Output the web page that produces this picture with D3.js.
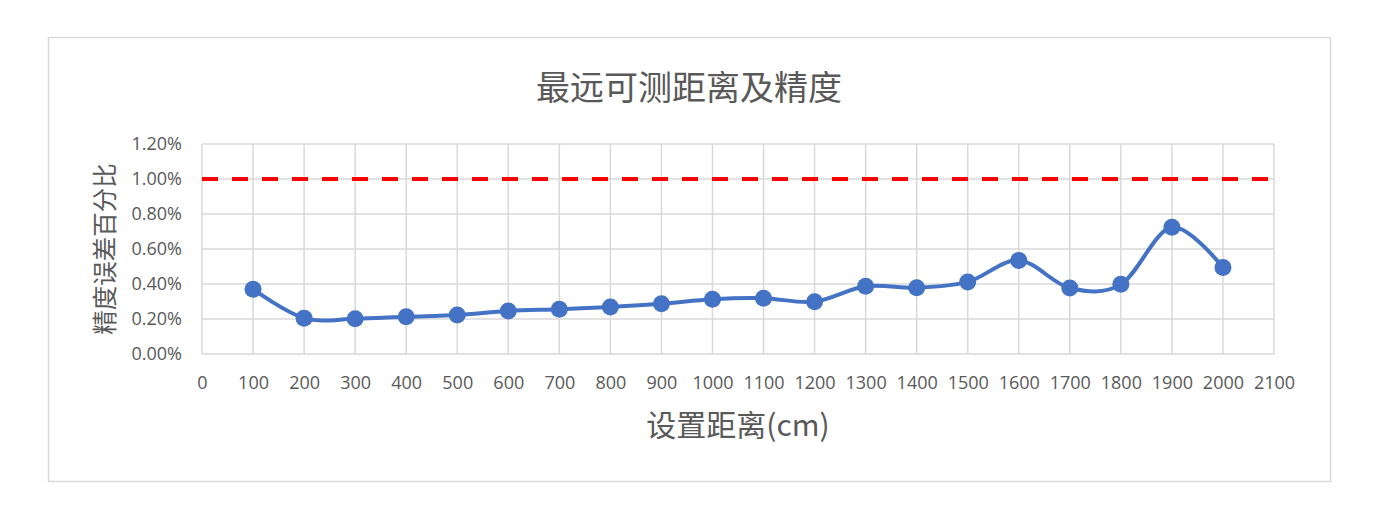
<!DOCTYPE html>
<html>
<head>
<meta charset="utf-8">
<script src="https://cdn.jsdelivr.net/npm/d3@7"></script>
<style>
    body { margin: 0; background: #fff; }
    text { fill: #595959; font-family: "Open Sans", "Noto Sans CJK SC", sans-serif; }
    .cjk { font-family: "Noto Sans CJK SC", sans-serif; }
</style>
</head>
<body>
<svg id="chart" width="1384" height="519"></svg>
<script>
// Measured distance (cm) and precision error (%)
const distances = [100, 200, 300, 400, 500, 600, 700, 800, 900, 1000,
                   1100, 1200, 1300, 1400, 1500, 1600, 1700, 1800, 1900, 2000];
const errors = [0.370, 0.205, 0.201, 0.213, 0.223, 0.246, 0.256, 0.269, 0.287, 0.313,
                0.319, 0.299, 0.387, 0.379, 0.412, 0.535, 0.377, 0.398, 0.724, 0.494];
const limitValue = 1.0;
const xTicks = d3.range(0, 2101, 100);
const yTicks = [0, 0.2, 0.4, 0.6, 0.8, 1.0, 1.2];

const svg = d3.select("#chart");

// Chart area border
svg.append("rect")
    .attr("x", 48.5).attr("y", 37.5)
    .attr("width", 1282).attr("height", 444)
    .attr("fill", "#fff")
    .attr("stroke", "#d9d9d9")
    .attr("stroke-width", 1.5);

const x = d3.scaleLinear().domain([0, 2100]).range([202, 1274]);
const y = d3.scaleLinear().domain([0, 1.2]).range([354, 144]);

// Gridlines
svg.append("g")
    .selectAll("line")
    .data(xTicks)
    .join("line")
    .attr("x1", d => x(d)).attr("x2", d => x(d))
    .attr("y1", y(0)).attr("y2", y(1.2))
    .attr("stroke", "#d9d9d9")
    .attr("stroke-width", 1.5);

svg.append("g")
    .selectAll("line")
    .data(yTicks)
    .join("line")
    .attr("x1", x(0)).attr("x2", x(2100))
    .attr("y1", d => y(d)).attr("y2", d => y(d))
    .attr("stroke", "#d9d9d9")
    .attr("stroke-width", 1.5);

// Axes labels
const xAxis = svg.append("g")
    .attr("transform", `translate(0,${y(0)})`)
    .call(d3.axisBottom(x).tickValues(xTicks).tickSize(0).tickPadding(22).tickFormat(d3.format("d")));
const yAxis = svg.append("g")
    .attr("transform", `translate(${x(0)},0)`)
    .call(d3.axisLeft(y).tickValues(yTicks).tickSize(0).tickPadding(20).tickFormat(d => d.toFixed(2) + "%"));

[xAxis, yAxis].forEach(g => {
    g.select(".domain").remove();
    g.selectAll("text")
        .attr("fill", "#595959")
        .style("font-family", '"Open Sans", sans-serif')
        .style("font-size", "18px");
});

// 1% limit line
svg.append("line")
    .attr("x1", x(0)).attr("x2", x(2100))
    .attr("y1", y(limitValue)).attr("y2", y(limitValue))
    .attr("stroke", "#ff0000")
    .attr("stroke-width", 4)
    .attr("stroke-dasharray", "16,14");

// Smoothed data line
const points = distances.map((d, i) => [d, errors[i]]);
const line = d3.line()
    .x(d => x(d[0]))
    .y(d => y(d[1]))
    .curve(d3.curveCatmullRom.alpha(0));

svg.append("path")
    .datum(points)
    .attr("d", line)
    .attr("fill", "none")
    .attr("stroke", "#4472c4")
    .attr("stroke-width", 4);

svg.append("g")
    .selectAll("circle")
    .data(points)
    .join("circle")
    .attr("cx", d => x(d[0]))
    .attr("cy", d => y(d[1]))
    .attr("r", 8.5)
    .attr("fill", "#4472c4");

// Titles
svg.append("text")
    .attr("class", "cjk")
    .attr("x", 689).attr("y", 85)
    .attr("text-anchor", "middle")
    .attr("dominant-baseline", "central")
    .style("font-size", "34px")
    .text("最远可测距离及精度");

svg.append("text")
    .attr("class", "cjk")
    .attr("x", 738).attr("y", 423)
    .attr("text-anchor", "middle")
    .attr("dominant-baseline", "central")
    .style("font-size", "30px")
    .text("设置距离(cm)");

svg.append("text")
    .attr("class", "cjk")
    .attr("transform", "translate(103,249) rotate(-90)")
    .attr("text-anchor", "middle")
    .attr("dominant-baseline", "central")
    .style("font-size", "24.5px")
    .text("精度误差百分比");
</script>
</body>
</html>
